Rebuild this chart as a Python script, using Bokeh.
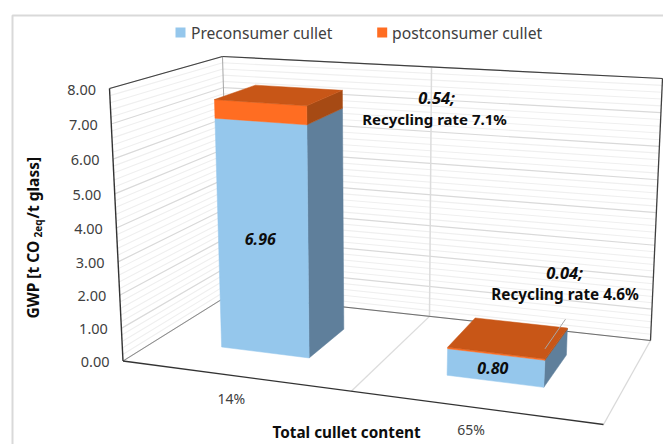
from bokeh.core.properties import value
from bokeh.embed import file_html
from bokeh.models import Range1d
from bokeh.plotting import figure
from bokeh.resources import INLINE
import math

# Chart data
categories = ["14%", "65%"]
preconsumer = [6.96, 0.80]
postconsumer = [0.54, 0.04]
recycling_rate = [7.1, 4.6]
y_ticks = [0, 1, 2, 3, 4, 5, 6, 7, 8]
minor_step = 0.2
y_max = 8.0
series_names = ["Preconsumer cullet", "postconsumer cullet"]

FONT = value("Noto Sans")
INK = "#262626"

# Screen corners of the 3D plot box: (front/back, left/right, bottom/top)
FLB, FLT = (122.5, 360.5), (109.0, 88.0)
FRB, FRT = (603.0, 424.0), (620.0, 124.0)
BLB, BLT = (229.0, 294.0), (222.0, 56.0)
BRB, BRT = (650.0, 340.0), (662.0, 78.0)

# Perspective foreshortening along the category, value and depth directions
K_X, K_Y, K_Z = 1.105, 1.05, 0.87


def project(t, val, s):
    """Map category position t, a value and depth s (all box-relative) to the page."""
    u = t / (t + K_X * (1 - t))
    w = s / (s + K_Z * (1 - s))
    r = val / y_max
    v = r / (r + K_Y * (1 - r))
    out = []
    for i in range(2):
        bottom = ((1 - u) * (1 - w) * FLB[i] + u * (1 - w) * FRB[i]
                  + (1 - u) * w * BLB[i] + u * w * BRB[i])
        top = ((1 - u) * (1 - w) * FLT[i] + u * (1 - w) * FRT[i]
               + (1 - u) * w * BLT[i] + u * w * BRT[i])
        out.append(bottom + v * (top - bottom))
    return out


p = figure(width=663, height=444, output_backend="svg", toolbar_location=None,
           x_range=Range1d(0, 663), y_range=Range1d(444, 0), min_border=0,
           outline_line_color=None, background_fill_color="white")
p.axis.visible = False
p.grid.visible = False


def seg(a, b, color, width=1.0):
    p.line([a[0], b[0]], [a[1], b[1]], line_color=color, line_width=width)


def face(points, color):
    p.patch([q[0] for q in points], [q[1] for q in points], fill_color=color,
            line_color=color, line_width=0.5)


def label(x, y, text, size, align="center", bold=False, italic=False, angle=0.0, color=INK):
    style = ("bold " if bold else "") + ("italic" if italic else "")
    p.text([x], [y], text=[text], text_font=FONT, text_font_size=f"{size}px",
           text_font_style=(style.strip() or "normal"), text_align=align,
           text_baseline="middle", angle=angle, text_color=color)


# Chart area frame
p.line([12, 12, 663], [444, 15, 15], line_color="#d9d9d9", line_width=2)

# Minor and major gridlines on the left and back walls
n_steps = round(y_max / minor_step)
for i in range(n_steps + 1):
    val = i * minor_step
    major = abs(val - round(val)) < 1e-9
    color = "#d9d9d9" if major else "#efefef"
    width = 1.2 if major else 1.1
    a, b, c = project(0, val, 0), project(0, val, 1), project(1, val, 1)
    p.line([a[0], b[0], c[0]], [a[1], b[1], c[1]], line_color=color, line_width=width)

# Divider between the two categories, up the back wall and across the floor
seg(project(0.5, 0, 1), project(0.5, y_max, 1), "#dcdcdc", 1.5)
seg(project(0.5, 0, 0), project(0.5, 0, 1), "#dcdcdc", 1.3)

# Box edges
seg(project(0, 0, 1), project(0, y_max, 1), "#a6a6a6", 1.0)
seg(project(0, 0, 0), project(0, 0, 1), "#8c8c8c", 1.0)
seg(project(1, 0, 0), project(1, 0, 1), "#d9d9d9", 1.3)
seg(project(0, 0, 1), project(1, 0, 1), "#6e6e6e", 1.0)
seg(project(0, 0, 0), project(0, y_max, 0), "#333333", 1.4)
seg(project(0, y_max, 0), project(0, y_max, 1), "#404040", 1.2)
seg(project(0, y_max, 1), project(1, y_max, 1), "#404040", 1.2)
seg(project(1, 0, 1), project(1, y_max, 1), "#404040", 1.3)
seg(project(0, 0, 0), project(1, 0, 0), "#333333", 1.3)

# Stacked 3D columns
BAR_W, S0, S1 = 0.2, 0.3, 0.7
for i, (pre, post) in enumerate(zip(preconsumer, postconsumer)):
    center = (i + 0.5) / len(categories)
    t0, t1 = center - BAR_W / 2, center + BAR_W / 2
    total = pre + post
    face([project(t1, 0, S0), project(t1, 0, S1), project(t1, pre, S1), project(t1, pre, S0)], "#5f7f9b")
    face([project(t0, 0, S0), project(t1, 0, S0), project(t1, pre, S0), project(t0, pre, S0)], "#95c7ec")
    face([project(t1, pre, S0), project(t1, pre, S1), project(t1, total, S1), project(t1, total, S0)], "#a64a14")
    face([project(t0, pre, S0), project(t1, pre, S0), project(t1, total, S0), project(t0, total, S0)], "#ff6d22")
    face([project(t0, total, S0), project(t1, total, S0), project(t1, total, S1), project(t0, total, S1)], "#c85617")

    mid_x = project(center, pre / 2, S0)
    label(mid_x[0] - 2.5, mid_x[1], f"{pre:.2f}", 16, bold=True, italic=True, color="#0d0d0d")

    # Category label beneath the front floor edge
    edge = project(center, 0, 0)
    label(edge[0] - 3, edge[1] + 22.5, categories[i], 14, color="#404040")

# Callouts for the postconsumer share
label(436, 97, f"{postconsumer[0]:.2f};", 16.5, bold=True, italic=True, color="#0d0d0d")
label(436, 118, f"Recycling rate  {recycling_rate[0]}%", 15, bold=True, color="#0d0d0d")
label(564, 272, f"{postconsumer[1]:.2f};", 16.5, bold=True, italic=True, color="#0d0d0d")
label(564.5, 293, f"Recycling rate {recycling_rate[1]}%", 15.3, bold=True, color="#0d0d0d")
anchor = project(0.85, preconsumer[1] + postconsumer[1], 0.3)
p.line([anchor[0], 565], [anchor[1] - 10, 318.7], line_color="#a6a6a6", line_width=1)

# Value axis labels
for tick in y_ticks:
    pos = project(0, tick, 0)
    label(pos[0] - 13.5, pos[1] + 1, f"{tick:.2f}", 14.5, align="right", color="#404040")

# Axis titles
label(272, 431.5, "Total cullet content", 15.3, align="left", bold=True, color="#0d0d0d")
up = math.pi / 2
label(32, 318, "GWP   [t CO", 15.5, align="left", bold=True, angle=up, color="#0d0d0d")
label(37, 237, "2eq", 10, align="left", bold=True, angle=up, color="#0d0d0d")
label(32, 218, "/t glass]", 15.5, align="left", bold=True, angle=up, color="#0d0d0d")

# Legend
p.quad(left=[175, 376.7], right=[185, 386.7], top=[27, 27], bottom=[37, 37],
       fill_color=["#95c7ec", "#ff6d22"], line_color=None)
label(190.5, 32, series_names[0], 15.6, align="left", color="#404040")
label(391.5, 32, series_names[1], 15.7, align="left", color="#404040")

open("out.html", "w").write(file_html(p, INLINE))
